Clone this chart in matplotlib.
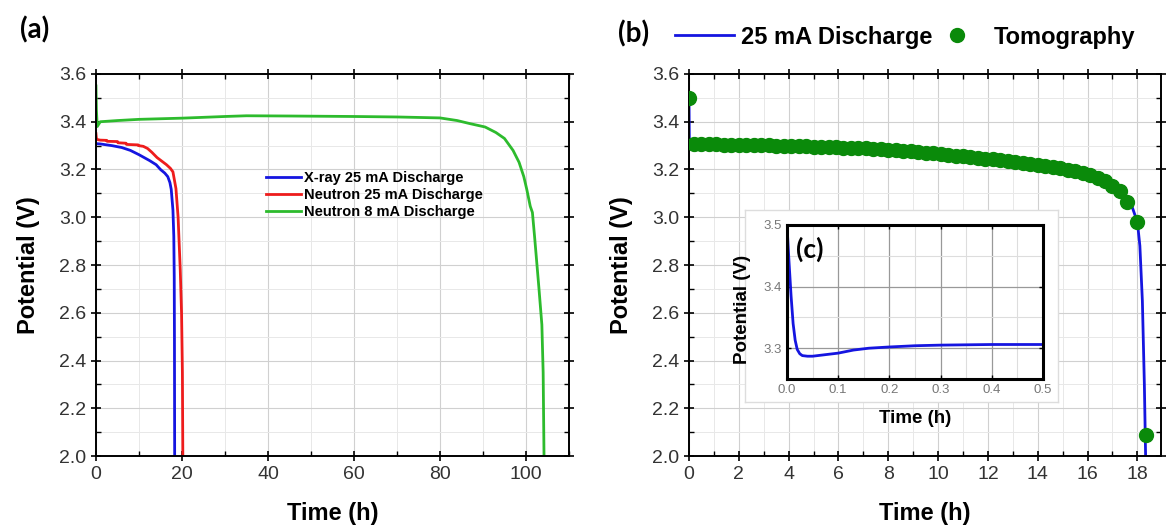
import numpy as np
import matplotlib
matplotlib.use("Agg")
import matplotlib.pyplot as plt
from matplotlib.ticker import MultipleLocator, FormatStrFormatter
from matplotlib.lines import Line2D

plt.rcParams["font.family"] = ["Liberation Sans", "DejaVu Sans"]

# ---- panel (a) data ----
xray_t = [0, 0.2, 1, 3.7, 6, 8, 10, 12.5, 14, 15, 16, 16.7, 17.2, 17.5, 17.9, 18.1, 18.2, 18.25, 18.3]
xray_v = [3.31, 3.308, 3.307, 3.30, 3.292, 3.28, 3.262, 3.237, 3.22, 3.20, 3.185, 3.17, 3.145, 3.117, 3.03, 2.92, 2.75, 2.5, 2.0]

neut25_t = [0, 0.1, 0.4, 1, 2.5, 2.6, 5, 5.1, 7, 7.1, 9.8, 9.9, 11, 12, 13, 14.2, 15.3, 16.4, 17.3, 17.9, 18.6, 19.1, 19.6, 19.9, 20.1, 20.2]
neut25_v = [3.35, 3.33, 3.325, 3.323, 3.322, 3.318, 3.317, 3.312, 3.31, 3.305, 3.303, 3.30, 3.297, 3.288, 3.272, 3.25, 3.235, 3.22, 3.205, 3.19, 3.12, 3.0, 2.78, 2.6, 2.35, 2.0]

neut8_t = [0, 0.1, 0.3, 1, 5, 10, 20, 30, 35, 45, 60, 70, 80, 84, 87, 90.5, 93, 95, 97, 98.4, 99.5, 100.2, 101, 101.5, 102, 103, 103.7, 104, 104.2]
neut8_v = [3.55, 3.45, 3.38, 3.40, 3.405, 3.41, 3.415, 3.422, 3.425, 3.424, 3.422, 3.42, 3.416, 3.405, 3.392, 3.378, 3.355, 3.33, 3.28, 3.23, 3.17, 3.116, 3.046, 3.02, 2.92, 2.707, 2.55, 2.35, 2.0]

# ---- panel (b) data ----
dis_t = [0, 0.004, 0.008, 0.012, 0.016, 0.02, 0.025, 0.03, 0.04, 0.05, 0.07, 0.1, 0.13, 0.16, 0.2, 0.25,
         0.3, 0.4, 0.5, 1, 2, 4, 6, 8, 10, 12, 14, 15, 16, 16.5, 17, 17.5, 17.8, 18.0, 18.1, 18.2, 18.28, 18.33]
dis_v = [3.5, 3.44, 3.385, 3.34, 3.313, 3.298, 3.291, 3.288, 3.287, 3.287, 3.289, 3.292, 3.297, 3.300, 3.302, 3.304,
         3.305, 3.306, 3.306, 3.305, 3.303, 3.299, 3.292, 3.282, 3.265, 3.245, 3.220, 3.203, 3.177, 3.16, 3.132, 3.09,
         3.04, 2.98, 2.88, 2.65, 2.3, 2.0]

tomo_t = [0.0, 0.2, 0.5, 0.8, 1.1, 1.4, 1.7, 2.0, 2.3, 2.6, 2.9, 3.2, 3.5, 3.8, 4.1, 4.4, 4.7,
          5.0, 5.3, 5.6, 5.9, 6.2, 6.5, 6.8, 7.1, 7.4, 7.7, 8.0, 8.3, 8.6, 8.9, 9.2, 9.5,
          9.8, 10.1, 10.4, 10.7, 11.0, 11.3, 11.6, 11.9, 12.2, 12.5, 12.8, 13.1, 13.4, 13.7,
          14.0, 14.3, 14.6, 14.9, 15.2, 15.5, 15.8, 16.1, 16.4, 16.7, 17.0, 17.3, 17.6, 18.0, 18.33]
tomo_v = [3.50, 3.308, 3.306, 3.305, 3.305, 3.304, 3.304, 3.303, 3.303, 3.302, 3.302, 3.301, 3.300, 3.300, 3.299, 3.298, 3.297,
          3.296, 3.295, 3.294, 3.293, 3.292, 3.290, 3.289, 3.288, 3.286, 3.284, 3.282, 3.280, 3.278, 3.276, 3.273, 3.270,
          3.267, 3.264, 3.261, 3.258, 3.255, 3.252, 3.249, 3.246, 3.243, 3.240, 3.236, 3.232, 3.228, 3.224,
          3.220, 3.215, 3.210, 3.205, 3.199, 3.192, 3.184, 3.175, 3.165, 3.150, 3.132, 3.108, 3.065, 2.980, 2.090]

BLUE = "#1515e0"
RED = "#ee1c1c"
GREEN = "#2dbb2d"
DOT = "#0a8a0a"
TICK_COLOR = "#333333"


def style_axes(ax, xmaj, xmin, ymaj, ymin, lw=1.4, size=14):
    ax.xaxis.set_major_locator(MultipleLocator(xmaj))
    ax.xaxis.set_minor_locator(MultipleLocator(xmin))
    ax.yaxis.set_major_locator(MultipleLocator(ymaj))
    ax.yaxis.set_minor_locator(MultipleLocator(ymin))
    ax.yaxis.set_major_formatter(FormatStrFormatter("%.1f"))
    ax.tick_params(which="major", direction="inout", length=7, width=1.2,
                   top=True, right=True, labelsize=size, labelcolor=TICK_COLOR)
    ax.tick_params(which="minor", direction="in", length=3.5, width=1.0, top=True, right=True)
    ax.grid(which="major", color="#d0d0d0", lw=0.8)
    ax.grid(which="minor", color="#e8e8e8", lw=0.7)
    ax.set_axisbelow(True)
    for s in ax.spines.values():
        s.set_linewidth(lw)
    ax.set_ylabel("Potential (V)", fontsize=17, fontweight="bold")
    ax.set_xlabel("Time (h)", fontsize=17, fontweight="bold")
    ax.yaxis.set_label_coords(-0.118, 0.5)
    ax.xaxis.set_label_coords(0.5, -0.12)


fig = plt.figure(figsize=(11.69, 5.30), dpi=100)

# ---------------- (a) ----------------
ax1 = fig.add_axes([0.0821, 0.1396, 0.4046, 0.7208])
ax1.plot(xray_t, xray_v, color=BLUE, lw=2, label="X-ray 25 mA Discharge")
ax1.plot(neut25_t, neut25_v, color=RED, lw=2, label="Neutron 25 mA Discharge")
ax1.plot(neut8_t, neut8_v, color=GREEN, lw=2, label="Neutron 8 mA Discharge")
ax1.set_xlim(0, 110)
ax1.set_ylim(2.0, 3.6)
style_axes(ax1, 20, 10, 0.2, 0.1)
ax1.legend(loc="upper left", bbox_to_anchor=(0.345, 0.765), frameon=False,
           prop={"weight": "bold", "size": 10.5}, handlelength=2.4,
           handletextpad=0.15, labelspacing=0.2, borderpad=0)

# ---------------- (b) ----------------
ax2 = fig.add_axes([0.5894, 0.1396, 0.4038, 0.7208])
ax2.plot(dis_t, dis_v, color=BLUE, lw=2, zorder=2)
ax2.plot(tomo_t, tomo_v, "o", color=DOT, ms=10, zorder=3)
ax2.set_xlim(0, 18.95)
ax2.set_ylim(2.0, 3.6)
style_axes(ax2, 2, 1, 0.2, 0.1)

handles = [Line2D([], [], color=BLUE, lw=2),
           Line2D([], [], color=DOT, marker="o", ls="none", ms=10)]
fig.legend(handles, ["25 mA Discharge", "Tomography"], loc="center left",
           bbox_to_anchor=(675 / 1169, 0.930), ncol=2, frameon=False,
           prop={"weight": "bold", "size": 17}, handlelength=2.5,
           handletextpad=0.3, columnspacing=-0.2, borderpad=0, borderaxespad=0)

# white box behind the inset
box = fig.add_axes([0.6373, 0.2415, 0.2678, 0.3623])
box.set_xticks([])
box.set_yticks([])
box.set_facecolor("white")
for s in box.spines.values():
    s.set_color("#dddddd")
    s.set_linewidth(1.0)
box.set_zorder(3)

# ---------------- (c) inset ----------------
ins = fig.add_axes([0.6732, 0.2849, 0.2190, 0.2906])
ins.set_zorder(4)
ins.plot(dis_t, dis_v, color=BLUE, lw=2)
ins.set_xlim(0, 0.5)
ins.set_ylim(3.25, 3.5)
ins.xaxis.set_major_locator(MultipleLocator(0.1))
ins.xaxis.set_minor_locator(MultipleLocator(0.05))
ins.yaxis.set_major_locator(MultipleLocator(0.1))
ins.yaxis.set_minor_locator(MultipleLocator(0.05))
ins.tick_params(which="major", direction="in", length=3, width=1.0,
                top=True, right=True, labelsize=9.5, labelcolor="#777777")
ins.tick_params(which="minor", length=0)
ins.grid(which="major", color="#999999", lw=0.9)
ins.grid(which="minor", color="#dddddd", lw=0.8)
ins.set_axisbelow(True)
for s in ins.spines.values():
    s.set_linewidth(2.2)
ins.set_ylabel("Potential (V)", fontsize=13.5, fontweight="bold")
ins.set_xlabel("Time (h)", fontsize=13.5, fontweight="bold")
ins.yaxis.set_label_coords(-0.14, 0.45)
ins.xaxis.set_label_coords(0.5, -0.2)
ins.text(0.035, 0.84, "(c)", transform=ins.transAxes, fontsize=19,
         fontweight="bold", family=["Lato", "DejaVu Sans"], va="center", ha="left")

# panel labels
fig.text(20 / 1169, 1 - 30 / 530, "(a)", fontsize=20, fontweight="bold",
         family=["Lato", "DejaVu Sans"], va="center", ha="left")
fig.text(618 / 1169, 1 - 34 / 530, "(b)", fontsize=20, fontweight="bold",
         family=["Lato", "DejaVu Sans"], va="center", ha="left")

fig.savefig("out.png", dpi=100)
